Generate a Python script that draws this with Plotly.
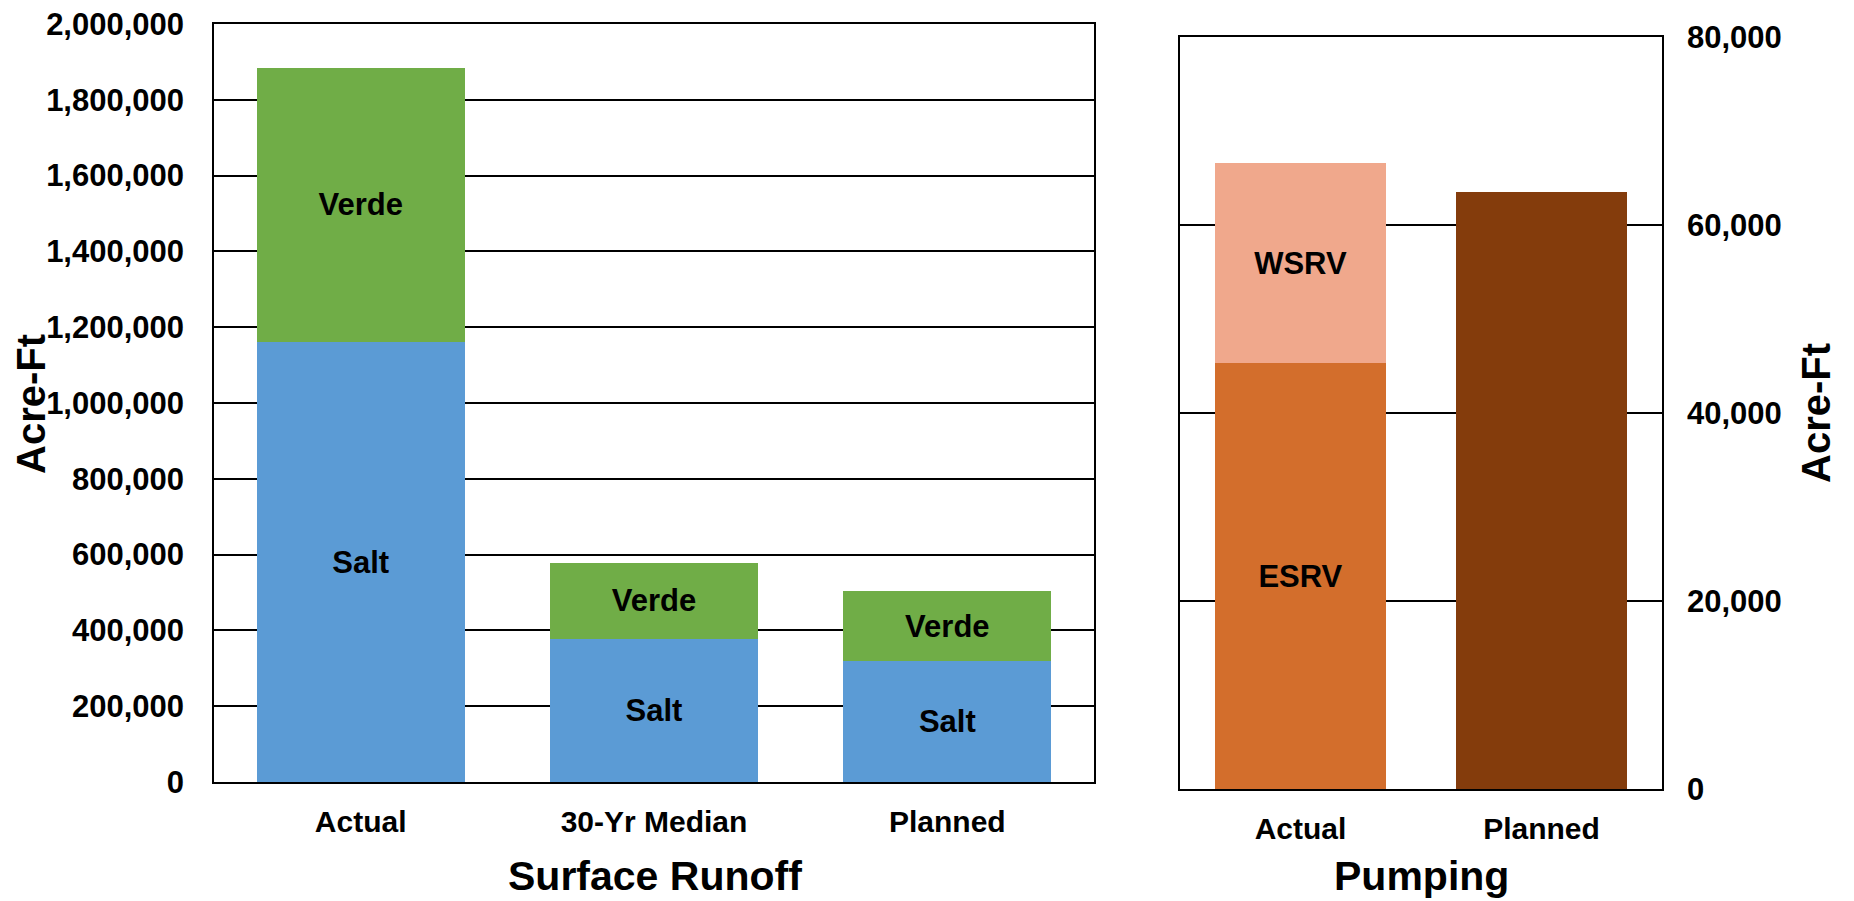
import plotly.graph_objects as go

# ---- data ----
runoff_categories = ["Actual", "30-Yr Median", "Planned"]
salt = [1160000, 377000, 318000]
verde = [725000, 202000, 186000]
salt_labels = ["Salt", "Salt", "Salt"]
verde_labels = ["Verde", "Verde", "Verde"]

pumping_categories = ["Actual", "Planned"]
esrv_cat = ["Actual"]
esrv = [45300]
wsrv_cat = ["Actual"]
wsrv = [21300]
planned_cat = ["Planned"]
planned_pumping = [63500]

left_ticks = list(range(0, 2000001, 200000))
right_ticks = list(range(0, 80001, 20000))

FONT = "Liberation Sans, Arial, sans-serif"
W, H = 1854, 901
OFF = 8  # page body margin offset


def px(x):
    return (x - OFF) / W


def py(y):
    return (H - (y - OFF)) / H


fig = go.Figure()

lab_font = dict(family=FONT, size=31, color="black", weight=700)

fig.add_trace(go.Bar(x=runoff_categories, y=salt, text=salt_labels, name="Salt",
                     marker=dict(color="#5B9BD5", line=dict(width=0)),
                     textposition="inside", insidetextanchor="middle",
                     textfont=lab_font, constraintext="none",
                     xaxis="x", yaxis="y", hoverinfo="y"))
fig.add_trace(go.Bar(x=runoff_categories, y=verde, text=verde_labels, name="Verde",
                     marker=dict(color="#70AD47", line=dict(width=0)),
                     textposition="inside", insidetextanchor="middle",
                     textfont=lab_font, constraintext="none",
                     xaxis="x", yaxis="y", hoverinfo="y"))
fig.add_trace(go.Bar(x=esrv_cat, y=esrv, text=["ESRV"], name="ESRV",
                     marker=dict(color="#D36E2C", line=dict(width=0)),
                     textposition="inside", insidetextanchor="middle",
                     textfont=lab_font, constraintext="none",
                     xaxis="x2", yaxis="y2", hoverinfo="y"))
fig.add_trace(go.Bar(x=wsrv_cat, y=wsrv, text=["WSRV"], name="WSRV",
                     marker=dict(color="#F0A88C", line=dict(width=0)),
                     textposition="inside", insidetextanchor="middle",
                     textfont=lab_font, constraintext="none",
                     xaxis="x2", yaxis="y2", hoverinfo="y"))
fig.add_trace(go.Bar(x=planned_cat, y=planned_pumping, name="Planned",
                     marker=dict(color="#843C0C", line=dict(width=0)),
                     xaxis="x2", yaxis="y2", hoverinfo="y"))

tick_font = dict(family=FONT, size=31, color="black", weight=700)
cat_font = dict(family=FONT, size=30, color="black", weight=700)
axis_common = dict(showline=True, linecolor="black", linewidth=1.5, mirror=True,
                   ticks="", fixedrange=True, automargin=False,
                   ticklabeloverflow="allow")

fig.update_layout(
    template="none",
    width=W, height=H,
    margin=dict(l=0, r=0, t=0, b=0, pad=0),
    paper_bgcolor="white", plot_bgcolor="white",
    barmode="stack", bargap=0.29,
    showlegend=False,
    font=dict(family=FONT, color="black"),
    xaxis=dict(domain=[px(214), px(1094)], anchor="y", type="category",
               categoryorder="array", categoryarray=runoff_categories,
               showgrid=False, ticklabelstandoff=12, tickfont=cat_font, **axis_common),
    yaxis=dict(domain=[py(782), py(24)], anchor="x",
               range=[0, 2000000], tickvals=left_ticks, tickformat=",",
               showgrid=True, gridcolor="black", gridwidth=1.5,
               zeroline=False, ticklabelstandoff=22, tickfont=tick_font, **axis_common),
    xaxis2=dict(domain=[px(1180), px(1662)], anchor="y2", type="category",
                categoryorder="array", categoryarray=pumping_categories,
                showgrid=False, ticklabelstandoff=12, tickfont=cat_font, **axis_common),
    yaxis2=dict(domain=[py(789), py(37)], anchor="x2", side="right",
                range=[0, 80000], tickvals=right_ticks, tickformat=",",
                showgrid=True, gridcolor="black", gridwidth=1.5,
                zeroline=False, ticklabelstandoff=17, tickfont=tick_font, **axis_common),
)

title_font = dict(family=FONT, size=41, color="black", weight=700)
ytitle_font = dict(family=FONT, size=40, color="black", weight=700)
fig.add_annotation(text="Acre-Ft", x=px(31), y=py(404), xref="paper", yref="paper",
                   textangle=-90, showarrow=False, font=ytitle_font,
                   xanchor="center", yanchor="middle")
fig.add_annotation(text="Acre-Ft", x=px(1816), y=py(413), xref="paper", yref="paper",
                   textangle=-90, showarrow=False, font=ytitle_font,
                   xanchor="center", yanchor="middle")
fig.add_annotation(text="Surface Runoff", x=px(655), y=py(876), xref="paper", yref="paper",
                   showarrow=False, font=title_font, xanchor="center", yanchor="middle")
fig.add_annotation(text="Pumping", x=px(1421), y=py(876), xref="paper", yref="paper",
                   showarrow=False, font=title_font, xanchor="center", yanchor="middle")

fig.write_html("out.html")
